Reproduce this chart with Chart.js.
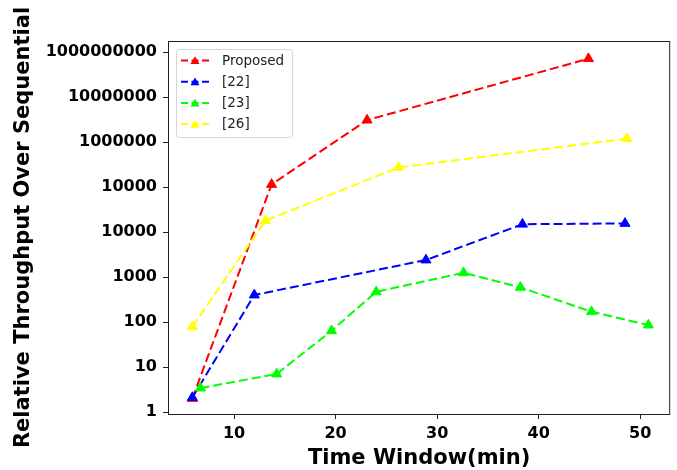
<!DOCTYPE html>
<html>
<head>
<meta charset="utf-8">
<script src="https://cdn.jsdelivr.net/npm/chart.js@4/dist/chart.umd.min.js"></script>
<style>
  html, body { margin: 0; padding: 0; background: #fff; }
  canvas { display: block; }
</style>
</head>
<body>
<canvas id="speedup" width="677" height="470"></canvas>
<script>
// values (x = time window in minutes, y = relative throughput)
const proposedX = [5.9, 13.7, 23.1, 44.9];
const proposedY = [2, 115000, 3100000, 72000000];

const ref22X = [5.9, 12.0, 28.9, 38.4, 48.5];
const ref22Y = [2.1, 400, 2400, 15000, 15600];

const ref23X = [6.7, 14.2, 19.6, 24.0, 32.6, 38.2, 45.2, 50.8];
const ref23Y = [3.4, 7, 64, 470, 1250, 590, 170, 86];

const ref26X = [5.9, 13.1, 26.2, 48.7];
const ref26Y = [79, 18000, 275000, 1200000];

const seriesNames = ['Proposed', '[22]', '[23]', '[26]'];
const seriesColors = ['#ff0000', '#0000ff', '#00ff00', '#ffff00'];

const xTicks = [10, 20, 30, 40, 50];
const yTicks = [1, 10, 100, 1000, 10000, 100000, 1000000, 10000000, 100000000];
// labels exactly as printed on the original axis
const yTickLabels = ['1', '10', '100', '1000', '10000', '10000', '1000000', '10000000', '1000000000'];

const toPoints = (xs, ys) => xs.map((x, i) => ({ x: x, y: ys[i] }));
const allX = [proposedX, ref22X, ref23X, ref26X];
const allY = [proposedY, ref22Y, ref23Y, ref26Y];

Chart.defaults.font.family = "'DejaVu Sans', sans-serif";
Chart.defaults.color = '#000';

function triangle(ctx, x, y, r, color) {
  ctx.beginPath();
  ctx.moveTo(x, y - r);
  ctx.lineTo(x + r * Math.sin(2 * Math.PI / 3), y - r * Math.cos(2 * Math.PI / 3));
  ctx.lineTo(x + r * Math.sin(4 * Math.PI / 3), y - r * Math.cos(4 * Math.PI / 3));
  ctx.closePath();
  ctx.fillStyle = color;
  ctx.fill();
}

// white page + frame round the plot + matplotlib-like legend in the upper left
const frameAndLegend = {
  id: 'frameAndLegend',
  beforeDraw(chart) {
    const ctx = chart.ctx;
    ctx.save();
    ctx.fillStyle = '#fff';
    ctx.fillRect(0, 0, chart.width, chart.height);
    ctx.restore();
  },
  afterDatasetsDraw(chart) {
    const { ctx, chartArea } = chart;
    ctx.save();
    ctx.strokeStyle = '#222';
    ctx.lineWidth = 1;
    ctx.strokeRect(chartArea.left + 0.5, chartArea.top + 0.5,
      chartArea.right - chartArea.left - 1, chartArea.bottom - chartArea.top);
    ctx.restore();
  },
  afterDraw(chart) {
    const { ctx, chartArea } = chart;
    const x0 = chartArea.left + 8, y0 = chartArea.top + 8;
    ctx.save();
    ctx.beginPath();
    ctx.roundRect(x0 + 0.5, y0 + 0.5, 116, 88, 3);
    ctx.fillStyle = 'rgba(255,255,255,0.8)';
    ctx.fill();
    ctx.strokeStyle = '#d6d6d6';
    ctx.lineWidth = 1;
    ctx.stroke();
    chart.data.datasets.forEach((ds, i) => {
      const y = y0 + 11.5 + i * 21.2;
      ctx.strokeStyle = ds.borderColor;
      ctx.lineWidth = 2;
      ctx.setLineDash([7, 3.5]);
      ctx.beginPath();
      ctx.moveTo(x0 + 5, y);
      ctx.lineTo(x0 + 33, y);
      ctx.stroke();
      ctx.setLineDash([]);
      triangle(ctx, x0 + 19, y + 1, 5.2, ds.borderColor);
      ctx.fillStyle = '#222';
      ctx.font = "13.5px 'DejaVu Sans'";
      ctx.textBaseline = 'middle';
      ctx.fillText(ds.label, x0 + 46, y + 0.5);
    });
    ctx.restore();
  }
};

new Chart(document.getElementById('speedup'), {
  type: 'line',
  data: {
    datasets: seriesNames.map((name, i) => ({
      label: name,
      data: toPoints(allX[i], allY[i]),
      borderColor: seriesColors[i],
      backgroundColor: seriesColors[i],
      pointBackgroundColor: seriesColors[i],
      pointBorderColor: seriesColors[i],
      borderWidth: 2,
      borderDash: [9, 4],
      pointStyle: 'triangle',
      pointRadius: 5.8,
      pointBorderWidth: 1,
      tension: 0,
      fill: false,
      order: seriesNames.length - 1 - i
    }))
  },
  options: {
    responsive: false,
    devicePixelRatio: 1,
    animation: false,
    layout: { padding: { top: 41, right: 6, bottom: 0, left: 0 } },
    plugins: {
      legend: { display: false },
      tooltip: { enabled: false }
    },
    scales: {
      x: {
        type: 'linear',
        min: 3.5,
        max: 52.95,
        afterBuildTicks: (scale) => { scale.ticks = xTicks.map(v => ({ value: v })); },
        afterFit: (scale) => { scale.height = 56; },
        border: { display: false },
        grid: { display: true, drawOnChartArea: false, drawTicks: true, tickLength: 5, color: '#222' },
        ticks: {
          autoSkip: false,
          maxRotation: 0,
          padding: 5,
          color: '#000',
          font: { size: 16, weight: 'bold' }
        },
        title: {
          display: true,
          text: 'Time Window(min)',
          color: '#000',
          font: { size: 21, weight: 'bold' },
          padding: { top: 0, bottom: -1 }
        }
      },
      y: {
        type: 'logarithmic',
        min: 0.903,
        max: 178000000,
        afterBuildTicks: (scale) => { scale.ticks = yTicks.map(v => ({ value: v })); },
        afterFit: (scale) => { scale.width = 168; },
        border: { display: false },
        grid: { display: true, drawOnChartArea: false, drawTicks: true, tickLength: 5, color: '#222' },
        ticks: {
          autoSkip: false,
          padding: 6,
          color: '#000',
          font: { size: 16, weight: 'bold' },
          callback: (value, index) => yTickLabels[index]
        },
        title: {
          display: true,
          text: 'Relative Throughput Over Sequential',
          color: '#000',
          font: { size: 21, weight: 'bold' },
          padding: { top: 11, bottom: 0 }
        }
      }
    }
  },
  plugins: [frameAndLegend]
});
</script>
</body>
</html>
